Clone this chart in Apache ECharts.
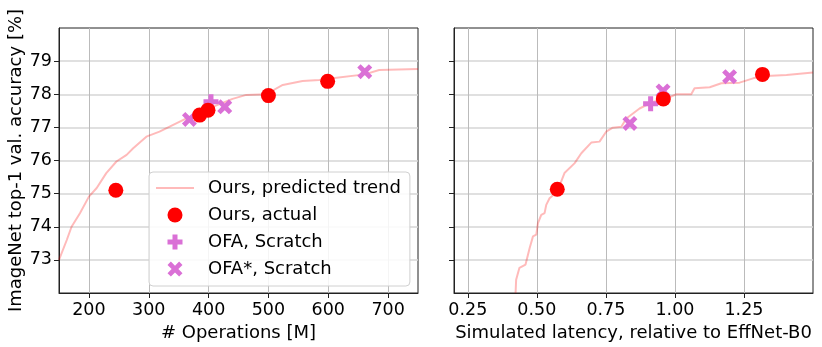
<!DOCTYPE html>
<html>
<head>
<meta charset="utf-8">
<script src="https://cdn.jsdelivr.net/npm/echarts@6/dist/echarts.min.js"></script>
<style>
  html, body { margin: 0; padding: 0; background: #fff; }
  #chart { width: 822px; height: 347px; }
</style>
</head>
<body>
<div id="chart"></div>
<script>
// predicted trend, left panel (# operations vs accuracy)
var trendOpsX = [150, 163, 171, 185, 200, 213, 229, 246, 263, 274, 296, 318, 340, 363, 385, 407, 440, 463, 496, 524, 557, 585, 607, 661, 685, 750];
var trendOpsY = [73.0, 73.6, 74.0, 74.41, 74.91, 75.17, 75.62, 75.97, 76.17, 76.37, 76.72, 76.87, 77.07, 77.27, 77.42, 77.62, 77.86, 77.98, 78.0, 78.28, 78.4, 78.43, 78.48, 78.6, 78.73, 78.76];
// predicted trend, right panel (latency vs accuracy)
var trendLatX = [0.423, 0.425, 0.437, 0.459, 0.474, 0.486, 0.498, 0.504, 0.516, 0.528, 0.534, 0.546, 0.574, 0.600, 0.637, 0.661, 0.697, 0.727, 0.751, 0.775, 0.806, 0.824, 0.872, 0.920, 0.969, 1.005, 1.059, 1.071, 1.126, 1.168, 1.234, 1.283, 1.331, 1.404, 1.500];
var trendLatY = [72.0, 72.4, 72.76, 72.86, 73.36, 73.71, 73.76, 74.11, 74.36, 74.41, 74.66, 74.86, 75.06, 75.62, 75.92, 76.22, 76.54, 76.57, 76.87, 76.99, 77.02, 77.27, 77.57, 77.77, 77.87, 78.0, 78.0, 78.18, 78.21, 78.33, 78.35, 78.48, 78.55, 78.58, 78.66];

// Ours, actual
var oursOps = [245, 385, 399, 500, 599];
var oursOpsAcc = [75.1, 77.37, 77.52, 77.96, 78.39];
var oursLat = [0.574, 0.958, 1.317];
var oursLatAcc = [75.13, 77.86, 78.6];

// OFA, Scratch
var ofaOps = [404];
var ofaOpsAcc = [77.77];
var ofaLat = [0.912];
var ofaLatAcc = [77.71];

// OFA*, Scratch
var ofaStarOps = [368, 427, 661];
var ofaStarOpsAcc = [77.24, 77.62, 78.68];
var ofaStarLat = [0.837, 0.957, 1.198];
var ofaStarLatAcc = [77.12, 78.1, 78.53];

var opsTicks = [200, 300, 400, 500, 600, 700];
var latTicks = [0.25, 0.5, 0.75, 1.0, 1.25];
var accTicks = [73, 74, 75, 76, 77, 78, 79];

function zip(xs, ys) {
    var out = [];
    for (var i = 0; i < xs.length; i++) out.push([xs[i], ys[i]]);
    return out;
}

var plusPath = 'path://M1,0H2V1H3V2H2V3H1V2H0V1H1Z';
var crossPath = 'path://M0.9,0L2,1.1L3.1,0L4,0.9L2.9,2L4,3.1L3.1,4L2,2.9L0.9,4L0,3.1L1.1,2L0,0.9Z';

var font = 'DejaVu Sans';
var red = '#ff0000';
var orchid = '#da70d6';
var trendColor = 'rgba(255,0,0,0.27)';

var myChart = echarts.init(document.getElementById('chart'));

function xAxisOf(idx, min, max, ticks, name, fmt) {
    return {
        type: 'value',
        gridIndex: idx,
        min: min,
        max: max,
        name: name,
        nameLocation: 'middle',
        nameGap: 31,
        nameTextStyle: { color: '#000', fontSize: 18, fontFamily: font },
        axisLine: { show: true, onZero: false, lineStyle: { color: '#222', width: 1 } },
        axisTick: { show: true, length: 5, customValues: ticks, lineStyle: { color: '#222' } },
        axisLabel: {
            customValues: ticks,
            color: '#000', fontSize: 17.5, fontFamily: font, margin: 8,
            formatter: fmt
        },
        splitLine: { show: true, lineStyle: { color: '#bbbbbb', width: 1 } }
    };
}

function yAxisOf(idx, showLabel) {
    return {
        type: 'value',
        gridIndex: idx,
        min: 72,
        max: 80,
        name: showLabel ? 'ImageNet top-1 val. accuracy [%]' : '',
        nameLocation: 'middle',
        nameGap: 34,
        nameTextStyle: { color: '#000', fontSize: 18, fontFamily: font },
        axisLine: { show: true, onZero: false, lineStyle: { color: '#222', width: 1 } },
        axisTick: { show: true, length: 5, customValues: accTicks, lineStyle: { color: '#222' } },
        axisLabel: {
            show: showLabel,
            customValues: accTicks,
            color: '#000', fontSize: 17.5, fontFamily: font, margin: 7
        },
        splitLine: { show: true, lineStyle: { color: '#d6d6d6', width: 1.5 } }
    };
}

myChart.setOption({
    animation: false,
    backgroundColor: '#fff',
    textStyle: { fontFamily: font },
    grid: [
        { left: 59, top: 28, width: 359, height: 265, show: true, borderColor: '#222', borderWidth: 1 },
        { left: 454, top: 28, width: 359, height: 265, show: true, borderColor: '#222', borderWidth: 1 }
    ],
    legend: {
        left: 149,
        top: 172,
        orient: 'vertical',
        padding: [7, 9, 8, 6],
        itemWidth: 38,
        itemHeight: 15,
        itemGap: 9,
        backgroundColor: 'rgba(255,255,255,0.85)',
        borderColor: '#d0d0d0',
        borderWidth: 1,
        borderRadius: 4,
        textStyle: { color: '#000', fontSize: 18, fontFamily: font, padding: [0, 0, 0, 9] },
        data: [
            { name: 'Ours, predicted trend', itemStyle: { opacity: 0 } },
            'Ours, actual', 'OFA, Scratch', 'OFA*, Scratch'
        ]
    },
    xAxis: [
        xAxisOf(0, 150, 750, opsTicks, '# Operations [M]', function (v) { return String(v); }),
        xAxisOf(1, 0.2, 1.5, latTicks, 'Simulated latency, relative to EffNet-B0', function (v) { return v.toFixed(2); })
    ],
    yAxis: [yAxisOf(0, true), yAxisOf(1, false)],
    series: [
        {
            name: 'Ours, predicted trend', type: 'line', xAxisIndex: 0, yAxisIndex: 0,
            data: zip(trendOpsX, trendOpsY), symbol: 'none', z: 2,
            lineStyle: { color: trendColor, width: 2 }, itemStyle: { color: trendColor }
        },
        {
            name: 'Ours, predicted trend', type: 'line', xAxisIndex: 1, yAxisIndex: 1,
            data: zip(trendLatX, trendLatY), symbol: 'none', z: 2,
            lineStyle: { color: trendColor, width: 2 }, itemStyle: { color: trendColor }
        },
        {
            name: 'OFA, Scratch', type: 'scatter', xAxisIndex: 0, yAxisIndex: 0,
            data: zip(ofaOps, ofaOpsAcc), symbol: plusPath, symbolSize: 15, symbolKeepAspect: true,
            itemStyle: { color: orchid, opacity: 1 }, z: 3
        },
        {
            name: 'OFA, Scratch', type: 'scatter', xAxisIndex: 1, yAxisIndex: 1,
            data: zip(ofaLat, ofaLatAcc), symbol: plusPath, symbolSize: 15, symbolKeepAspect: true,
            itemStyle: { color: orchid, opacity: 1 }, z: 3
        },
        {
            name: 'OFA*, Scratch', type: 'scatter', xAxisIndex: 0, yAxisIndex: 0,
            data: zip(ofaStarOps, ofaStarOpsAcc), symbol: crossPath, symbolSize: 15, symbolKeepAspect: true,
            itemStyle: { color: orchid, opacity: 1 }, z: 3
        },
        {
            name: 'OFA*, Scratch', type: 'scatter', xAxisIndex: 1, yAxisIndex: 1,
            data: zip(ofaStarLat, ofaStarLatAcc), symbol: crossPath, symbolSize: 15, symbolKeepAspect: true,
            itemStyle: { color: orchid, opacity: 1 }, z: 3
        },
        {
            name: 'Ours, actual', type: 'scatter', xAxisIndex: 0, yAxisIndex: 0,
            data: zip(oursOps, oursOpsAcc), symbol: 'circle', symbolSize: 15,
            itemStyle: { color: red, opacity: 1 }, z: 4
        },
        {
            name: 'Ours, actual', type: 'scatter', xAxisIndex: 1, yAxisIndex: 1,
            data: zip(oursLat, oursLatAcc), symbol: 'circle', symbolSize: 15,
            itemStyle: { color: red, opacity: 1 }, z: 4
        }
    ]
});
</script>
</body>
</html>
